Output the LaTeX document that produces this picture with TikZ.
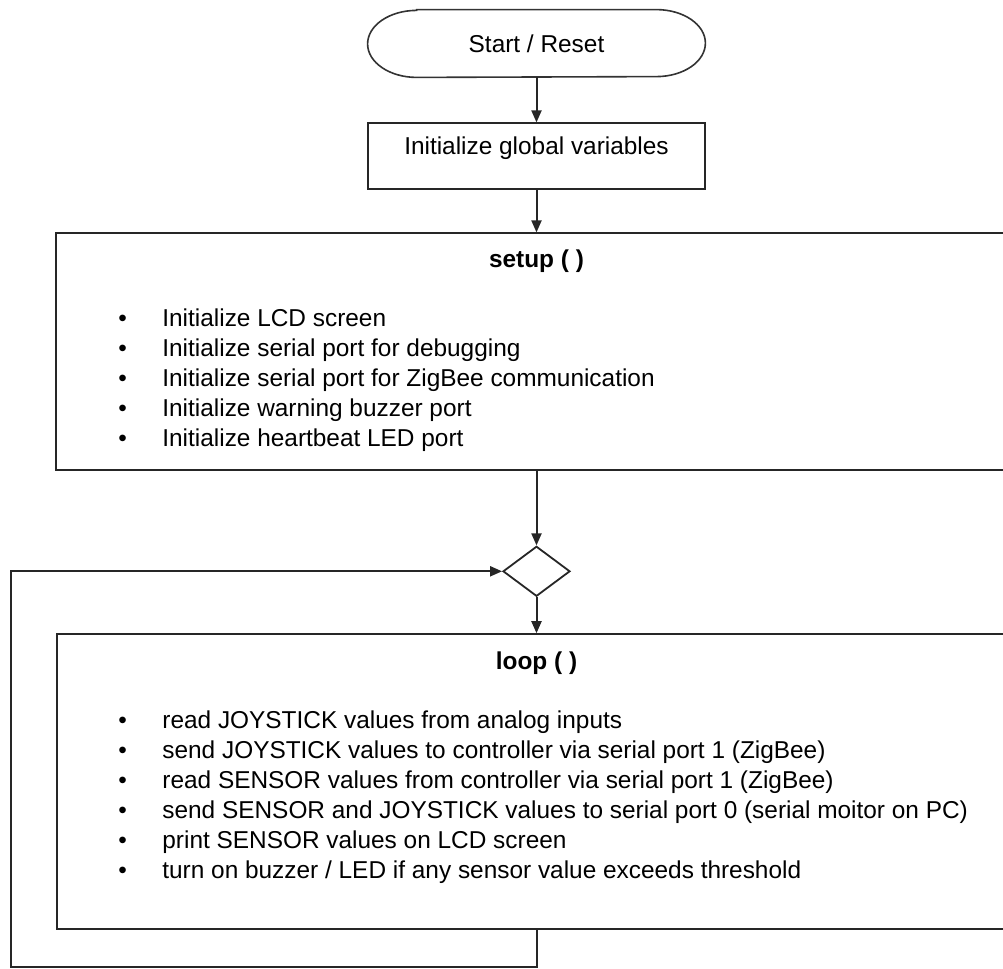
\documentclass[tikz,border=0pt]{standalone}
\usepackage{fontspec}
\setmainfont{Liberation Sans}
\usetikzlibrary{arrows.meta,positioning,shapes.geometric}

\newcommand{\bul}{\makebox[22pt][l]{\textbullet}}

\begin{document}
\begin{tikzpicture}[
  x=0.5pt, y=-0.5pt,
  font=\fontsize{12.2pt}{15pt}\selectfont,
  term/.style={minimum width=168.5pt, minimum height=33.5pt, inner sep=0pt},
  box/.style={draw=black!85, line width=1pt, inner sep=0pt, align=center},
  block/.style={draw=black!85, line width=1pt, inner sep=0pt},
  dec/.style={draw=black!85, line width=0.9pt, diamond, minimum width=33.5pt, minimum height=25pt, inner sep=0pt},
  title/.style={font=\fontsize{12.2pt}{15pt}\selectfont\bfseries},
  list/.style={align=left, inner sep=0pt, anchor=north west},
  arr/.style={-{Triangle[length=6pt,width=5pt]}, line width=1pt, black!85}
]
  \clip (0,0) rectangle (1003,969);

  \node[term] (start) at (536.5,43.5) {Start / Reset};
  \draw[line width=0.8pt, black!80] ([xshift=24.5pt]start.north west) -- ([xshift=-24.5pt]start.north east)
    arc[start angle=90, end angle=-90, x radius=24.5pt, y radius=16.75pt]
    -- ([xshift=24.5pt]start.south west)
    arc[start angle=270, end angle=90, x radius=24.5pt, y radius=16.75pt] -- cycle;
  \node[box, below=22.5pt of start, minimum width=168.5pt, text height=15.8pt, text depth=17.2pt] (init) {Initialize global variables};

  % setup block
  \node[block, below=21pt of init, minimum width=481pt, minimum height=118.5pt] (setup) {};
  \node[title] (setuptitle) at ([yshift=-14.5pt]setup.north) {setup ( )};
  \node[list] (setuplist) at ([xshift=31.75pt, yshift=-38.2pt]setup.north west) {%
    \bul Initialize LCD screen\\
    \bul Initialize serial port for debugging\\
    \bul Initialize serial port for ZigBee communication\\
    \bul Initialize warning buzzer port\\
    \bul Initialize heartbeat LED port};

  \node[dec, below=37pt of setup] (check) {};

  % loop block
  \node[block, below=18pt of check, minimum width=479.5pt, minimum height=147.5pt] (loop) {};
  \node[title] (looptitle) at ([yshift=-15pt]loop.north) {loop ( )};
  \node[list] (looplist) at ([xshift=31pt, yshift=-38.7pt]loop.north west) {%
    \bul read JOYSTICK values from analog inputs\\
    \bul send JOYSTICK values to controller via serial port 1 (ZigBee)\\
    \bul read SENSOR values from controller via serial port 1 (ZigBee)\\
    \bul send SENSOR and JOYSTICK values to serial port 0 (serial moitor on PC)\\
    \bul print SENSOR values on LCD screen\\
    \bul turn on buzzer / LED if any sensor value exceeds threshold};

  \coordinate (back) at (11,967);

  \draw[arr] (start) -- (init);
  \draw[arr] (init) -- (setup);
  \draw[arr] (setup) -- (check);
  \draw[arr] (check) -- (loop);
  \draw[arr] (loop.south) |- (back) |- (check.west);
\end{tikzpicture}
\end{document}
